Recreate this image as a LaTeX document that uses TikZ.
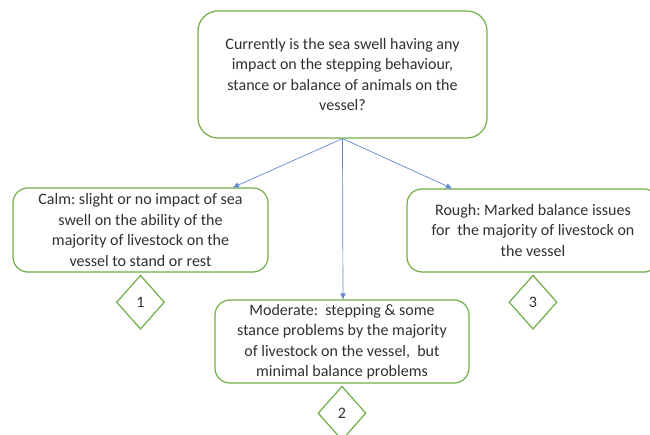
\documentclass[tikz,border=0pt]{standalone}
\usepackage{fontspec}
\setmainfont{Carlito}
\usepackage{xcolor}
\usepackage{tikz}
\usetikzlibrary{positioning, shapes.geometric, arrows.meta}
\definecolor{officeGreen}{HTML}{70AD47}
\definecolor{officeBlue}{HTML}{4472C4}
\definecolor{textGray}{HTML}{303030}
\frenchspacing

\begin{document}
\begin{tikzpicture}[
    x=1pt, y=-1pt,
    font=\fontsize{16pt}{20.5pt}\selectfont,
    box/.style={rectangle, draw=officeGreen, rounded corners=15pt, line width=1.2pt, align=center, text=textGray, inner sep=0pt, minimum width=255pt, minimum height=84pt},
    level/.style={diamond, draw=officeGreen, line width=1.2pt, text=textGray, inner sep=0pt, minimum width=48pt, minimum height=54pt},
    arrow/.style={-{Triangle[length=6pt,width=5pt]}, officeBlue!85, line width=0.7pt}
]
\useasboundingbox (0,0) rectangle (650,435);
\clip (0,0) rectangle (650,435);

\node[box, rounded corners=20pt, minimum width=289pt, minimum height=127pt] (question) at (342.5,74.5) {Currently is the sea swell having any\\impact on the stepping behaviour,\\stance or balance of animals on the\\vessel?};

\node[box] (calm) at (140.5,230) {Calm: slight or no impact of sea\\swell on the ability of the\\majority of livestock on the\\vessel to stand or rest};
\node[box, minimum width=254pt, minimum height=83pt] (moderate) at (342,341.5) {Moderate:\ \ stepping \& some\\stance problems by the majority\\of livestock on the vessel,\ \ but\\minimal balance problems};
\node[box, minimum width=252pt, minimum height=83pt] (rough) at (533,230.5) {Rough: Marked balance issues\\for\ \ the majority of livestock on\\the vessel};

\node[level, below=2pt of calm] (one) {1};
\node[level, below=2pt of moderate] (two) {2};
\node[level, below=2pt of rough] (three) {3};

\draw[arrow] (question.south) -- ([xshift=92.5pt]calm.north);
\draw[arrow] (question.south) -- ([xshift=1pt]moderate.north);
\draw[arrow] (question.south) -- ([xshift=-81pt]rough.north);

\end{tikzpicture}
\end{document}
